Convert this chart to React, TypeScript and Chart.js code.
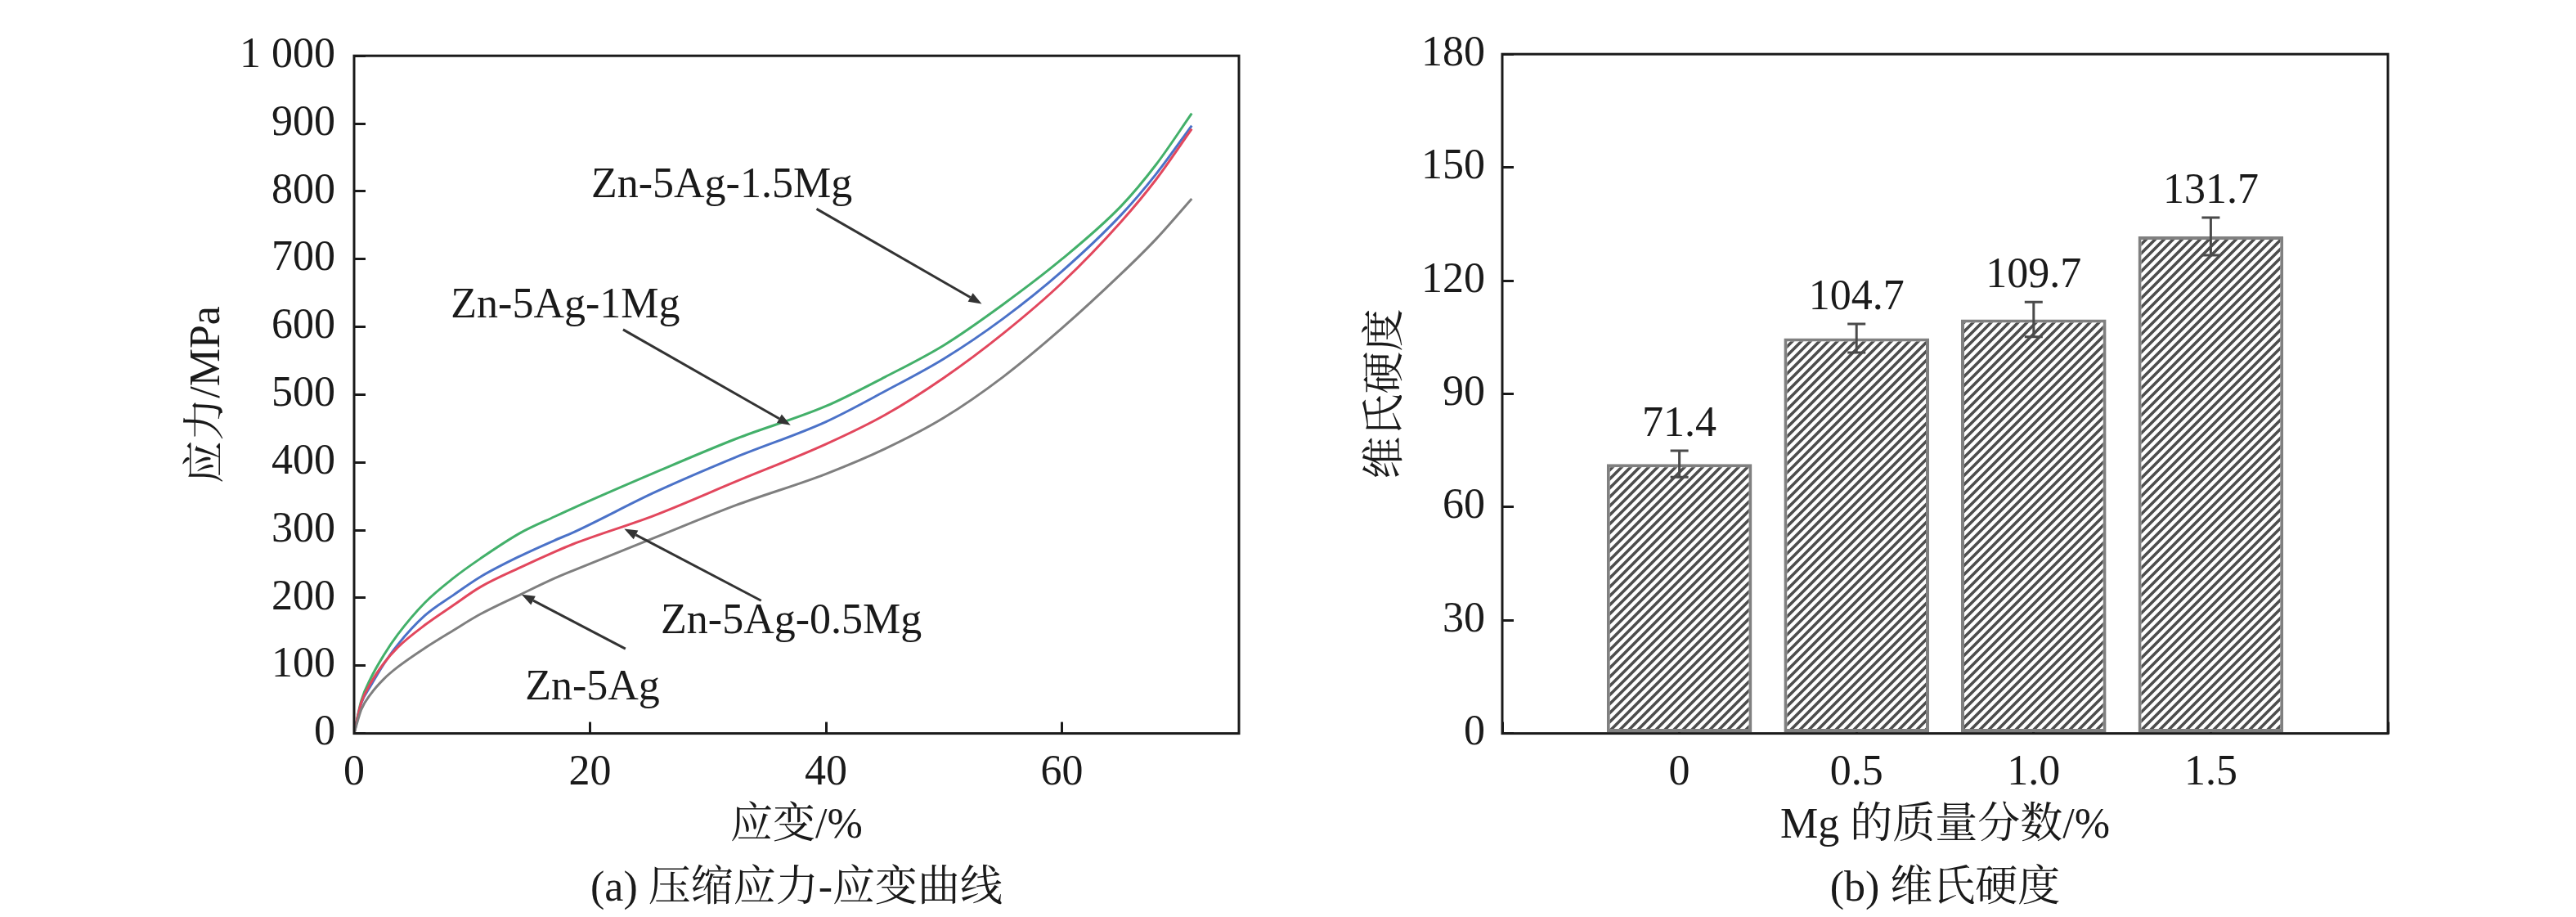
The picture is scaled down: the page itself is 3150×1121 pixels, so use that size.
import { useEffect, useRef } from "react"
import { Chart, registerables, type ChartConfiguration, type Plugin } from "chart.js"

Chart.register(...registerables)

const SERIF = "'Liberation Serif', 'Noto Serif CJK SC', 'Noto Sans CJK SC', serif"
const FONT = { family: SERIF, size: 52, weight: "normal" as const }
const INK = "#1a1a1a"

// (a) compressive stress-strain curves, strain in %, stress in MPa
const strain = [0, 0.6, 1.4, 2.5, 3.7, 6, 8.4, 10.7, 14.1, 17, 18.5, 25.5, 32.4, 40, 45, 50, 55, 60, 65, 68, 71]
const stressZn5Ag = [0, 35, 58, 80, 98, 126, 152, 176, 205, 229, 240, 289, 337, 383, 420, 466, 526, 598, 678, 730, 789]
const stress05Mg = [0, 45, 74, 103, 127, 160, 189, 216, 245, 268, 279, 322, 372, 427, 470, 525, 590, 665, 755, 818, 892]
const stress1Mg = [0, 44, 70, 102, 131, 174, 204, 231, 262, 285, 296, 356, 408, 460, 505, 553, 612, 682, 765, 826, 897]
const stress15Mg = [0, 48, 81, 115, 146, 193, 229, 258, 296, 320, 332, 385, 435, 483, 526, 573, 633, 700, 778, 840, 915]

// (b) Vickers hardness vs Mg content
const mgContent = ["0", "0.5", "1.0", "1.5"]
const hardness = [71.4, 104.7, 109.7, 131.7]
const hardnessError = [3.5, 3.8, 4.6, 5.0]

// curve labels with arrows, in data units (strain %, MPa)
const curveNotes = [
  { text: "Zn-5Ag-1.5Mg", at: [20.1, 791], from: [39.2, 774], to: [53.2, 634] },
  { text: "Zn-5Ag-1Mg", at: [8.2, 614], from: [22.8, 596], to: [37.0, 455] },
  { text: "Zn-5Ag-0.5Mg", at: [26.0, 148], from: [34.5, 196], to: [22.9, 302] },
  { text: "Zn-5Ag", at: [14.5, 50], from: [23.0, 125], to: [14.2, 205] },
]

const framePlugin: Plugin = {
  id: "frame",
  afterDraw(chart) {
    const { ctx, chartArea: a } = chart
    ctx.save()
    ctx.strokeStyle = INK
    ctx.lineWidth = 3
    ctx.strokeRect(a.left, a.top, a.right - a.left, a.bottom - a.top)
    ctx.restore()
  },
}

const notesPlugin: Plugin = {
  id: "curveNotes",
  afterDatasetsDraw(chart) {
    const { ctx } = chart
    const x = chart.scales.x
    const y = chart.scales.y
    ctx.save()
    ctx.font = `52px ${SERIF}`
    ctx.textAlign = "left"
    ctx.textBaseline = "alphabetic"
    curveNotes.forEach((n) => {
      ctx.fillStyle = INK
      ctx.fillText(n.text, x.getPixelForValue(n.at[0]), y.getPixelForValue(n.at[1]))
      const x1 = x.getPixelForValue(n.from[0])
      const y1 = y.getPixelForValue(n.from[1])
      const x2 = x.getPixelForValue(n.to[0])
      const y2 = y.getPixelForValue(n.to[1])
      const ang = Math.atan2(y2 - y1, x2 - x1)
      const len = 16
      const bx = x2 - len * Math.cos(ang)
      const by = y2 - len * Math.sin(ang)
      ctx.strokeStyle = "#333"
      ctx.fillStyle = "#333"
      ctx.lineWidth = 3
      ctx.beginPath()
      ctx.moveTo(x1, y1)
      ctx.lineTo(bx, by)
      ctx.stroke()
      ctx.beginPath()
      ctx.moveTo(x2, y2)
      ctx.lineTo(bx + 6 * Math.sin(ang), by - 6 * Math.cos(ang))
      ctx.lineTo(bx - 6 * Math.sin(ang), by + 6 * Math.cos(ang))
      ctx.closePath()
      ctx.fill()
    })
    ctx.restore()
  },
}

const errorBarPlugin: Plugin = {
  id: "errorBars",
  afterDatasetsDraw(chart) {
    const { ctx } = chart
    const y = chart.scales.y
    const meta = chart.getDatasetMeta(0)
    ctx.save()
    hardness.forEach((v, i) => {
      const bar = meta.data[i + 1]
      if (!bar) return
      const top = y.getPixelForValue(v + hardnessError[i])
      const bottom = y.getPixelForValue(v - hardnessError[i])
      ctx.strokeStyle = "#4a4a4a"
      ctx.lineWidth = 3
      ctx.beginPath()
      ctx.moveTo(bar.x, top)
      ctx.lineTo(bar.x, bottom)
      ctx.moveTo(bar.x - 11, top)
      ctx.lineTo(bar.x + 11, top)
      ctx.moveTo(bar.x - 11, bottom)
      ctx.lineTo(bar.x + 11, bottom)
      ctx.stroke()
      ctx.font = `52px ${SERIF}`
      ctx.fillStyle = INK
      ctx.textAlign = "center"
      ctx.textBaseline = "alphabetic"
      ctx.fillText(v.toFixed(1), bar.x, top - 18)
    })
    ctx.restore()
  },
}

function makeHatch(): CanvasPattern | string {
  const s = 11
  const tile = document.createElement("canvas")
  tile.width = s
  tile.height = s
  const t = tile.getContext("2d")
  if (!t) return "#888"
  t.fillStyle = "#ffffff"
  t.fillRect(0, 0, s, s)
  t.strokeStyle = "#4d4d4d"
  t.lineWidth = 3.6
  t.beginPath()
  t.moveTo(0, s)
  t.lineTo(s, 0)
  t.moveTo(-s / 2, s / 2)
  t.lineTo(s / 2, -s / 2)
  t.moveTo(s / 2, s * 1.5)
  t.lineTo(s * 1.5, s / 2)
  t.stroke()
  return t.createPattern(tile, "repeat") ?? "#888"
}

const axisGrid = {
  drawOnChartArea: false,
  drawTicks: true,
  tickLength: -14,
  lineWidth: 3,
  color: INK,
}

function toPoints(values: number[]) {
  return strain.map((x, i) => ({ x, y: values[i] }))
}

function StressStrainChart() {
  const canvasRef = useRef<HTMLCanvasElement>(null)
  const chartRef = useRef<Chart | null>(null)

  useEffect(() => {
    if (!canvasRef.current) return
    if (chartRef.current) chartRef.current.destroy()

    const config: ChartConfiguration<"line"> = {
      type: "line",
      data: {
        datasets: [
          { label: "Zn-5Ag", data: toPoints(stressZn5Ag), borderColor: "#7f7f7f" },
          { label: "Zn-5Ag-0.5Mg", data: toPoints(stress05Mg), borderColor: "#e2475d" },
          { label: "Zn-5Ag-1Mg", data: toPoints(stress1Mg), borderColor: "#4b72c8" },
          { label: "Zn-5Ag-1.5Mg", data: toPoints(stress15Mg), borderColor: "#43b06a" },
        ],
      },
      options: {
        animation: false,
        responsive: false,
        layout: { padding: { top: 32, right: 60, bottom: 0, left: 0 } },
        elements: {
          point: { radius: 0 },
          line: { borderWidth: 3, cubicInterpolationMode: "monotone" },
        },
        plugins: {
          legend: { display: false },
          tooltip: { enabled: false },
          title: {
            display: true,
            text: "(a) 压缩应力-应变曲线",
            position: "bottom",
            fullSize: false,
            font: FONT,
            color: INK,
            padding: { top: 0, bottom: 2 },
          },
        },
        scales: {
          x: {
            type: "linear",
            min: 0,
            max: 75,
            grid: axisGrid,
            border: { display: false },
            ticks: { stepSize: 20, includeBounds: false, font: FONT, color: INK, padding: 32, maxRotation: 0 },
            title: { display: true, text: "应变/%", font: FONT, color: INK, padding: { top: 0, bottom: 15 } },
            afterFit: (s) => {
              s.height = 160
            },
          },
          y: {
            type: "linear",
            min: 0,
            max: 1000,
            grid: axisGrid,
            border: { display: false },
            ticks: {
              stepSize: 100,
              font: FONT,
              color: INK,
              padding: 37,
              callback: (v) => (v === 1000 ? "1 000" : String(v)),
            },
            title: { display: true, text: "应力/MPa", font: FONT, color: INK, padding: { top: 223, bottom: 0 } },
            afterFit: (s) => {
              s.width = 433
            },
          },
        },
      },
      plugins: [notesPlugin, framePlugin],
    }

    chartRef.current = new Chart(canvasRef.current, config as ChartConfiguration)

    return () => {
      if (chartRef.current) {
        chartRef.current.destroy()
        chartRef.current = null
      }
    }
  }, [])

  return <canvas ref={canvasRef} width={1575} height={1121} style={{ width: 1575, height: 1121 }} />
}

function HardnessChart() {
  const canvasRef = useRef<HTMLCanvasElement>(null)
  const chartRef = useRef<Chart | null>(null)

  useEffect(() => {
    if (!canvasRef.current) return
    if (chartRef.current) chartRef.current.destroy()

    const config: ChartConfiguration<"bar"> = {
      type: "bar",
      data: {
        labels: ["", ...mgContent, ""],
        datasets: [
          {
            label: "维氏硬度",
            data: [null, ...hardness, null] as (number | null)[],
            backgroundColor: makeHatch(),
            borderColor: "#808080",
            borderWidth: 4,
            borderSkipped: false,
            categoryPercentage: 1,
            barPercentage: 0.82,
          },
        ],
      },
      options: {
        animation: false,
        responsive: false,
        layout: { padding: { top: 32, right: 230, bottom: 0, left: 0 } },
        plugins: {
          legend: { display: false },
          tooltip: { enabled: false },
          title: {
            display: true,
            text: "(b) 维氏硬度",
            position: "bottom",
            fullSize: false,
            font: FONT,
            color: INK,
            padding: { top: 0, bottom: 2 },
          },
        },
        scales: {
          x: {
            type: "category",
            offset: false,
            grid: { ...axisGrid, offset: false },
            border: { display: false },
            ticks: { font: FONT, color: INK, padding: 32, autoSkip: false, maxRotation: 0 },
            title: { display: true, text: "Mg 的质量分数/%", font: FONT, color: INK, padding: { top: 0, bottom: 15 } },
            afterFit: (s) => {
              s.height = 160
            },
          },
          y: {
            type: "linear",
            min: 0,
            max: 180,
            grid: axisGrid,
            border: { display: false },
            ticks: { stepSize: 30, font: FONT, color: INK, padding: 35 },
            title: { display: true, text: "维氏硬度", font: FONT, color: INK, padding: { top: 90, bottom: 0 } },
            afterFit: (s) => {
              s.width = 262
            },
          },
        },
      },
      plugins: [errorBarPlugin, framePlugin],
    }

    chartRef.current = new Chart(canvasRef.current, config as ChartConfiguration)

    return () => {
      if (chartRef.current) {
        chartRef.current.destroy()
        chartRef.current = null
      }
    }
  }, [])

  return <canvas ref={canvasRef} width={1575} height={1121} style={{ width: 1575, height: 1121 }} />
}

export default function App() {
  return (
    <div style={{ position: "absolute", left: 0, top: 0, width: 3150, height: 1121, background: "#fff", display: "flex" }}>
      <StressStrainChart />
      <HardnessChart />
    </div>
  )
}
